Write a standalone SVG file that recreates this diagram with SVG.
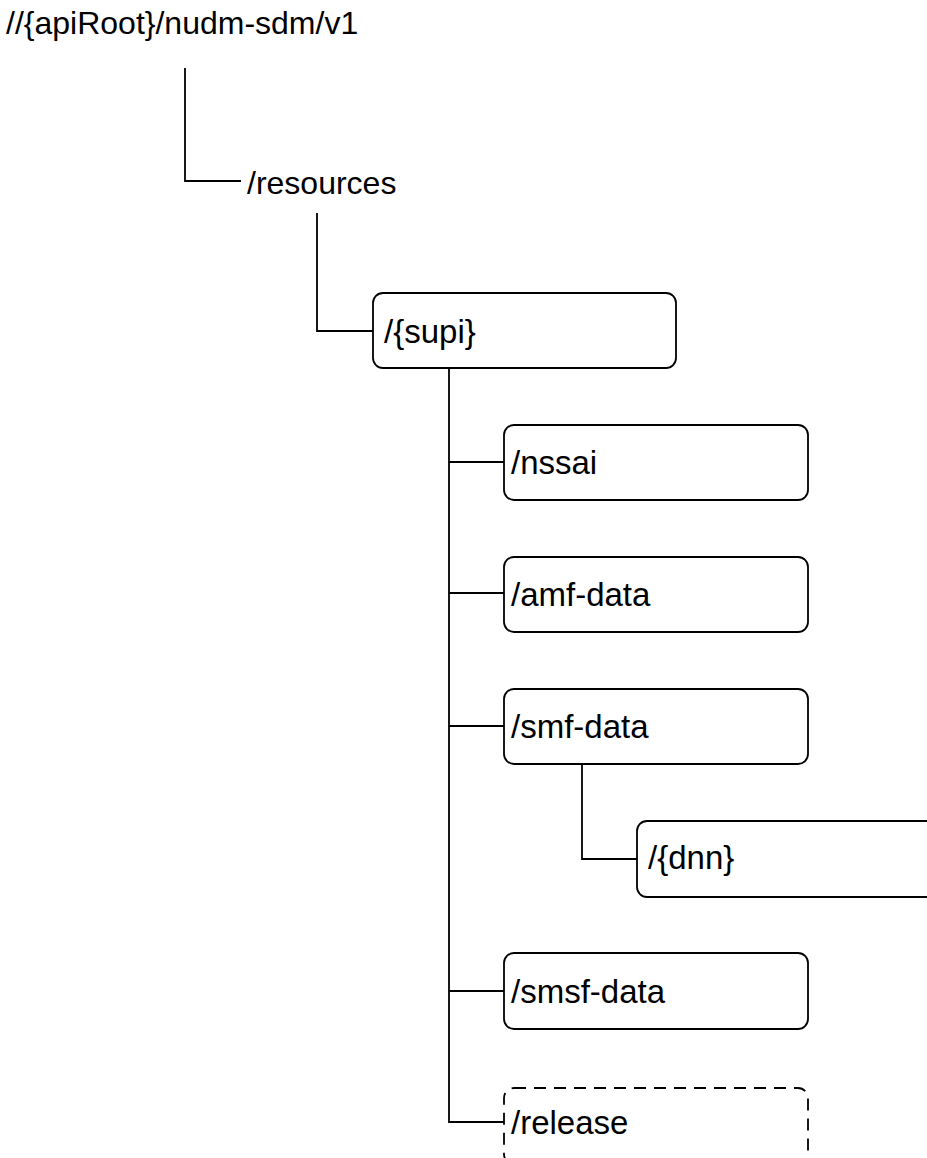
<svg xmlns="http://www.w3.org/2000/svg" width="927" height="1158" viewBox="0 0 927 1158">
<style>
.t{font-family:"Liberation Sans",Arial,sans-serif;font-size:33px;fill:#000}
.h{font-family:"Liberation Sans",Arial,sans-serif;font-size:32px;fill:#000}
.b{fill:#fff;stroke:#000;stroke-width:1.8}
.d{fill:#fff;stroke:#000;stroke-width:1.8;stroke-dasharray:12,8}
.c{fill:none;stroke:#000;stroke-width:1.8}
</style>
<rect width="927" height="1158" fill="#fff"/>
<g id="connectors">
<path class="c" d="M185,68 V181 H241"/>
<path class="c" d="M317,213 V331 H373"/>
<path class="c" d="M449,368 V1122 H504"/>
<path class="c" d="M449,462 H504"/>
<path class="c" d="M449,593 H504"/>
<path class="c" d="M449,726 H504"/>
<path class="c" d="M449,991 H504"/>
<path class="c" d="M582,764 V859 H637"/>
</g>
<g id="root"><text class="h" x="6" y="34">//{apiRoot}/nudm-sdm/v1</text></g>
<g id="resources"><text class="h" x="247" y="194">/resources</text></g>
<g id="supi"><rect class="b" x="373" y="293" width="303" height="75" rx="10"/><text class="t" x="384" y="343">/{supi}</text></g>
<g id="nssai"><rect class="b" x="504" y="425" width="304" height="75" rx="10"/><text class="t" x="511" y="474">/nssai</text></g>
<g id="amf-data"><rect class="b" x="504" y="557" width="304" height="75" rx="10"/><text class="t" x="511" y="606">/amf-data</text></g>
<g id="smf-data"><rect class="b" x="504" y="689" width="304" height="75" rx="10"/><text class="t" x="511" y="738">/smf-data</text></g>
<g id="dnn"><rect class="b" x="637" y="821" width="304" height="76" rx="10"/><text class="t" x="648" y="869">/{dnn}</text></g>
<g id="smsf-data"><rect class="b" x="504" y="953" width="304" height="76" rx="10"/><text class="t" x="511" y="1003">/smsf-data</text></g>
<g id="release"><rect class="d" x="504" y="1088" width="304" height="76" rx="10"/><text class="t" x="511" y="1134">/release</text></g>
</svg>
